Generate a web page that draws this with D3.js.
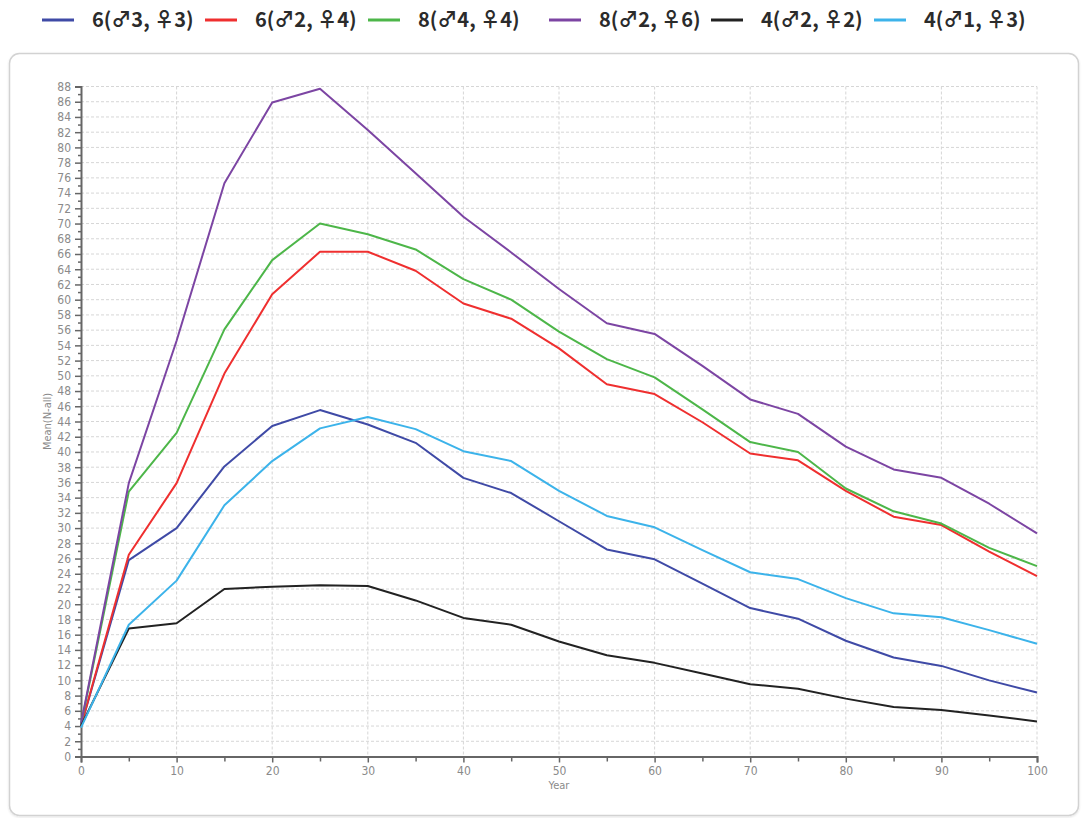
<!DOCTYPE html>
<html>
<head>
<meta charset="utf-8">
<script src="https://cdn.jsdelivr.net/npm/d3@7"></script>
<style>
  html, body { margin: 0; padding: 0; background: #fff; }
  svg { display: block; }
</style>
</head>
<body>
<svg id="chart" width="1083" height="818"></svg>
<script>
// Years sampled along the x axis
const years = [0, 5, 10, 15, 20, 25, 30, 35, 40, 45, 50, 55, 60, 65, 70, 75, 80, 85, 90, 95, 100];

// Mean(N-all) per group composition
const seriesNames = ["6(♂3, ♀3)", "6(♂2, ♀4)", "8(♂4, ♀4)", "8(♂2, ♀6)", "4(♂2, ♀2)", "4(♂1, ♀3)"];
const m3f3 = [4.0, 25.8, 30.0, 38.1, 43.4, 45.5, 43.6, 41.2, 36.6, 34.6, 30.9, 27.2, 25.9, 22.7, 19.5, 18.1, 15.2, 13.0, 11.9, 10.0, 8.4];
const m2f4 = [4.0, 26.5, 35.9, 50.3, 60.7, 66.3, 66.3, 63.8, 59.5, 57.5, 53.6, 48.9, 47.6, 43.9, 39.8, 38.9, 34.9, 31.5, 30.4, 26.9, 23.7];
const m4f4 = [4.2, 34.8, 42.5, 56.1, 65.2, 70.0, 68.6, 66.6, 62.7, 60.0, 55.8, 52.2, 49.8, 45.6, 41.3, 40.0, 35.2, 32.2, 30.6, 27.4, 25.0];
const m2f6 = [4.3, 35.9, 54.6, 75.3, 85.9, 87.7, 82.3, 76.6, 70.9, 66.2, 61.4, 56.9, 55.5, 51.3, 46.9, 45.0, 40.7, 37.7, 36.6, 33.2, 29.3];
const m2f2 = [4.0, 16.8, 17.5, 22.0, 22.3, 22.5, 22.4, 20.5, 18.2, 17.3, 15.1, 13.3, 12.3, 10.9, 9.5, 8.9, 7.6, 6.5, 6.1, 5.4, 4.6];
const m1f3 = [3.8, 17.3, 23.1, 33.0, 38.8, 43.1, 44.6, 43.0, 40.1, 38.8, 34.9, 31.6, 30.1, 27.1, 24.2, 23.3, 20.8, 18.8, 18.3, 16.6, 14.8];
const seriesValues = [m3f3, m2f4, m4f4, m2f6, m2f2, m1f3];

// Axis tick values
const xTicks = [0, 10, 20, 30, 40, 50, 60, 70, 80, 90, 100];
const xMinorTicks = [5, 15, 25, 35, 45, 55, 65, 75, 85, 95];
const yTicks = d3.range(0, 89, 2);
const yMinorTicks = d3.range(1, 88, 2);

const colors = ["#3f4aa6", "#ef2f2f", "#4db649", "#7c45a3", "#222222", "#3cb3ea"];

const svg = d3.select("#chart");

// Soft shadow for the panel
const defs = svg.append("defs");
const shadow = defs.append("filter").attr("id", "panelShadow")
  .attr("x", "-2%").attr("y", "-2%").attr("width", "104%").attr("height", "104%");
shadow.append("feDropShadow")
  .attr("dx", 0).attr("dy", 1).attr("stdDeviation", 1.2)
  .attr("flood-color", "#000").attr("flood-opacity", 0.12);

// Rounded panel behind the plot
svg.append("rect")
  .attr("x", 9.5).attr("y", 53.5)
  .attr("width", 1069).attr("height", 762)
  .attr("rx", 10).attr("ry", 10)
  .attr("fill", "#fff")
  .attr("stroke", "#d2d2d2")
  .attr("stroke-width", 1.5)
  .attr("filter", "url(#panelShadow)");

const plotLeft = 81, plotRight = 1037, plotTop = 86.5, plotBottom = 756.5;
const x = d3.scaleLinear().domain([0, 100]).range([plotLeft, plotRight]);
const y = d3.scaleLinear().domain([0, 88]).range([plotBottom, plotTop]);

// Grid
const grid = svg.append("g");
grid.selectAll("line.h").data(yTicks.filter(d => d > 0)).join("line")
  .attr("class", "h")
  .attr("x1", plotLeft).attr("x2", plotRight)
  .attr("y1", d => y(d)).attr("y2", d => y(d))
  .attr("stroke", "#d6d6d6").attr("stroke-width", 1)
  .attr("stroke-dasharray", "3,2");
grid.selectAll("line.v").data(xTicks.filter(d => d > 0)).join("line")
  .attr("class", "v")
  .attr("x1", d => x(d)).attr("x2", d => x(d))
  .attr("y1", plotTop).attr("y2", plotBottom)
  .attr("stroke", "#d6d6d6").attr("stroke-width", 1)
  .attr("stroke-dasharray", "3,2");

const tickFont = "'Liberation Sans Narrow', 'DejaVu Sans Condensed', 'Roboto', sans-serif";

// Y axis
svg.append("g").attr("transform", `translate(${plotLeft},0)`)
  .call(d3.axisLeft(y).tickValues(yTicks).tickSize(6).tickPadding(4).tickFormat(d3.format("d")));
svg.append("g").attr("transform", `translate(${plotLeft},0)`)
  .call(d3.axisLeft(y).tickValues(yMinorTicks).tickSize(3).tickFormat(""))
  .call(g => g.select(".domain").remove());

// X axis
svg.append("g").attr("transform", `translate(0,${plotBottom})`)
  .call(d3.axisBottom(x).tickValues(xTicks).tickSize(6).tickPadding(4).tickFormat(d3.format("d")));
svg.append("g").attr("transform", `translate(0,${plotBottom})`)
  .call(d3.axisBottom(x).tickValues(xMinorTicks).tickSize(5).tickFormat(""))
  .call(g => g.select(".domain").remove());

svg.selectAll(".domain").attr("stroke", "#666").attr("stroke-width", 2);
svg.selectAll(".tick line").attr("stroke", "#666").attr("stroke-width", 1.5);
svg.selectAll(".tick text")
  .attr("fill", "#8a8a8a")
  .style("font-family", tickFont)
  .style("font-size", "12px");

// Axis titles
svg.append("text")
  .attr("x", x(50)).attr("y", 789)
  .attr("text-anchor", "middle")
  .attr("fill", "#8a8a8a")
  .style("font-family", tickFont)
  .style("font-size", "11px")
  .text("Year");
svg.append("text")
  .attr("transform", `translate(51,${y(44)}) rotate(-90)`)
  .attr("text-anchor", "middle")
  .attr("fill", "#8a8a8a")
  .style("font-family", tickFont)
  .style("font-size", "11px")
  .text("Mean(N-all)");

// Lines
const line = d3.line().x((d, i) => x(years[i])).y(d => y(d));
svg.append("g").selectAll("path").data(seriesValues).join("path")
  .attr("d", line)
  .attr("fill", "none")
  .attr("stroke", (d, i) => colors[i])
  .attr("stroke-width", 2)
  .attr("stroke-linejoin", "round");

// Legend
const legendX = [42, 205, 368, 549, 711, 874];
const legend = svg.append("g");
seriesNames.forEach((name, i) => {
  const g = legend.append("g").attr("transform", `translate(${legendX[i]},20)`);
  g.append("line").attr("x1", 0).attr("x2", 32).attr("y1", 0).attr("y2", 0)
    .attr("stroke", colors[i]).attr("stroke-width", 3);
  g.append("text").attr("x", 50).attr("y", 0).attr("dy", "0.35em")
    .attr("fill", "#2b2b2b")
    .style("font-family", "'Noto Sans CJK KR', 'Noto Sans', sans-serif")
    .style("font-weight", "bold")
    .style("font-size", "20px")
    .text(name);
});
</script>
</body>
</html>
